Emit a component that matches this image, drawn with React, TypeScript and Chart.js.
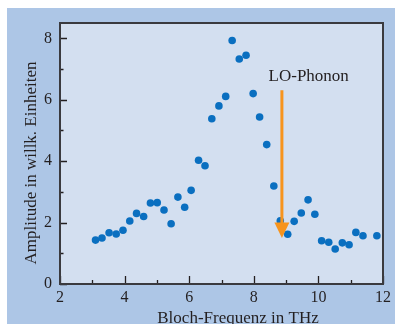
import { useEffect, useRef } from 'react';
import { Chart, registerables } from 'chart.js';

Chart.register(...registerables);

const frequencies = [3.10, 3.30, 3.52, 3.74, 3.95, 4.16, 4.37, 4.59, 4.80, 5.01, 5.22, 5.44, 5.65, 5.86, 6.06, 6.29, 6.49, 6.70, 6.92, 7.13, 7.33, 7.55, 7.76, 7.98, 8.18, 8.40, 8.62, 8.82, 9.05, 9.25, 9.47, 9.68, 9.89, 10.10, 10.32, 10.52, 10.74, 10.95, 11.16, 11.38, 11.81];
const amplitudes = [1.43, 1.50, 1.67, 1.63, 1.75, 2.05, 2.30, 2.20, 2.64, 2.65, 2.41, 1.96, 2.83, 2.50, 3.05, 4.03, 3.85, 5.38, 5.80, 6.11, 7.93, 7.33, 7.45, 6.20, 5.44, 4.54, 3.19, 2.06, 1.62, 2.04, 2.31, 2.74, 2.27, 1.41, 1.36, 1.14, 1.34, 1.28, 1.68, 1.57, 1.57];

const xTickLabels = [2, 4, 6, 8, 10, 12];
const xMinorTicks = [3, 5, 7, 9, 11];
const yTickLabels = [0, 2, 4, 6, 8];
const yMinorTicks = [1, 3, 5, 7];

const xTitle = 'Bloch-Frequenz in THz';
const yTitle = 'Amplitude in willk. Einheiten';
const annotationLabel = 'LO-Phonon';
const arrowX = 8.87;
const arrowTop = 6.31;
const arrowHeadBase = 2.0;
const arrowTip = 1.5;
const labelPos = [9.7, 6.6];

const FONT = '"Liberation Serif", "Times New Roman", serif';
const TEXT = '#231f20';
const OUTER_BG = '#adc6e6';
const PLOT_BG = '#d3dff0';
const FRAME = '#3a3a3f';
const POINT = '#0a6fc0';
const ORANGE = '#f7941d';

const W = 395;
const H = 324;

const decorPlugin = {
  id: 'decor',
  beforeDraw(chart: any) {
    const { ctx, chartArea: a, width, height } = chart;
    ctx.save();
    ctx.fillStyle = '#ffffff';
    ctx.fillRect(0, 0, width, height);
    ctx.fillStyle = OUTER_BG;
    ctx.fillRect(7, 8, width - 7, height - 8);
    ctx.fillStyle = PLOT_BG;
    ctx.fillRect(a.left, a.top, a.right - a.left, a.bottom - a.top);
    ctx.restore();
  },
  beforeDatasetsDraw(chart: any) {
    const { ctx, chartArea: a, scales } = chart;
    const xs = scales.x;
    const ys = scales.y;
    ctx.save();
    ctx.strokeStyle = TEXT;
    ctx.lineWidth = 1.3;
    ctx.beginPath();
    xTickLabels.forEach((v) => {
      const px = Math.round(xs.getPixelForValue(v)) + 0.5;
      ctx.moveTo(px, a.bottom);
      ctx.lineTo(px, a.bottom - 8);
    });
    xMinorTicks.forEach((v) => {
      const px = Math.round(xs.getPixelForValue(v)) + 0.5;
      ctx.moveTo(px, a.bottom);
      ctx.lineTo(px, a.bottom - 4);
    });
    yTickLabels.forEach((v) => {
      const py = Math.round(ys.getPixelForValue(v)) + 0.5;
      ctx.moveTo(a.left, py);
      ctx.lineTo(a.left + 7, py);
    });
    yMinorTicks.forEach((v) => {
      const py = Math.round(ys.getPixelForValue(v)) + 0.5;
      ctx.moveTo(a.left, py);
      ctx.lineTo(a.left + 3.5, py);
    });
    ctx.stroke();
    ctx.restore();
  },
  afterDatasetsDraw(chart: any) {
    const { ctx, chartArea: a, scales } = chart;
    const xs = scales.x;
    const ys = scales.y;
    ctx.save();
    // frame
    ctx.strokeStyle = FRAME;
    ctx.lineWidth = 2;
    ctx.strokeRect(a.left, a.top, a.right - a.left, a.bottom - a.top);

    // arrow
    const ax = xs.getPixelForValue(arrowX);
    const yTop = ys.getPixelForValue(arrowTop);
    const yBase = ys.getPixelForValue(arrowHeadBase);
    const yTip = ys.getPixelForValue(arrowTip);
    ctx.strokeStyle = ORANGE;
    ctx.fillStyle = ORANGE;
    ctx.lineWidth = 3;
    ctx.beginPath();
    ctx.moveTo(ax, yTop);
    ctx.lineTo(ax, yBase + 1);
    ctx.stroke();
    ctx.beginPath();
    ctx.moveTo(ax - 7.5, yBase);
    ctx.lineTo(ax + 7.5, yBase);
    ctx.lineTo(ax, yTip);
    ctx.closePath();
    ctx.fill();

    // annotation label
    ctx.fillStyle = TEXT;
    ctx.font = `17px ${FONT}`;
    ctx.textAlign = 'center';
    ctx.textBaseline = 'alphabetic';
    ctx.fillText(annotationLabel, xs.getPixelForValue(labelPos[0]), ys.getPixelForValue(labelPos[1]));

    // axis titles
    ctx.fillText(xTitle, (a.left + a.right) / 2 + 16.5, 322.5);
    ctx.translate(36, (a.top + a.bottom) / 2 + 9.5);
    ctx.rotate(-Math.PI / 2);
    ctx.fillText(yTitle, 0, 0);
    ctx.restore();
  },
};

export default function App() {
  const canvasRef = useRef<HTMLCanvasElement | null>(null);

  useEffect(() => {
    const canvas = canvasRef.current;
    if (!canvas) return;
    const chart = new Chart(canvas, {
      type: 'scatter',
      data: {
        datasets: [
          {
            data: frequencies.map((f, i) => ({ x: f, y: amplitudes[i] })),
            backgroundColor: POINT,
            borderWidth: 0,
            pointRadius: 3.8,
            pointHoverRadius: 3.8,
          },
        ],
      },
      options: {
        responsive: false,
        animation: false,
        layout: { padding: { top: 23, right: 10, left: 0, bottom: 0 } },
        plugins: { legend: { display: false }, tooltip: { enabled: false } },
        scales: {
          x: {
            type: 'linear',
            min: 2,
            max: 12,
            grid: { display: false, drawTicks: false },
            border: { display: false },
            afterBuildTicks: (s: any) => {
              s.ticks = xTickLabels.map((v) => ({ value: v }));
            },
            ticks: {
              autoSkip: false,
              maxRotation: 0,
              padding: 4,
              color: TEXT,
              font: { family: FONT, size: 16 },
              callback: (v: any) => String(v),
            },
            afterFit: (s: any) => {
              s.height = 40;
            },
          },
          y: {
            type: 'linear',
            min: 0,
            max: 8.5,
            grid: { display: false, drawTicks: false },
            border: { display: false },
            afterBuildTicks: (s: any) => {
              s.ticks = yTickLabels.map((v) => ({ value: v }));
            },
            ticks: {
              autoSkip: false,
              padding: 8,
              color: TEXT,
              font: { family: FONT, size: 16 },
              callback: (v: any) => String(v),
            },
            afterFit: (s: any) => {
              s.width = 60;
            },
          },
        },
      },
      plugins: [decorPlugin],
    });
    return () => chart.destroy();
  }, []);

  return (
    <div style={{ position: 'absolute', left: 0, top: 0, width: W, height: H, overflow: 'hidden' }}>
      <canvas ref={canvasRef} width={W} height={H} style={{ display: 'block' }} />
    </div>
  );
}
